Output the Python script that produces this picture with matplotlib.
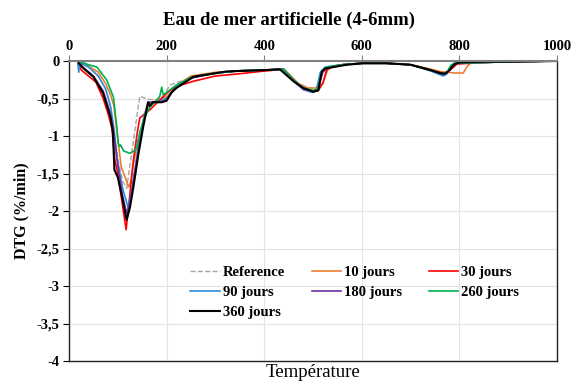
import matplotlib
matplotlib.use("Agg")
import matplotlib.pyplot as plt
from matplotlib.ticker import FuncFormatter

# ---------------- data ----------------
ref_T = [20, 40, 60, 75, 85, 92, 100, 110, 118, 145, 162, 180, 193, 207, 250, 300, 350, 400, 440,
         460, 480, 500, 510, 520, 530, 560, 600, 650, 700, 740, 760, 770, 780, 790, 800, 850, 900, 1000]
ref_D = [-0.02, -0.08, -0.2, -0.37, -0.6, -0.9, -1.3, -1.6, -1.7, -0.47, -0.51, -0.52, -0.47, -0.32, -0.22, -0.16, -0.13, -0.12, -0.11,
         -0.26, -0.36, -0.4, -0.38, -0.15, -0.09, -0.05, -0.03, -0.03, -0.05, -0.12, -0.16, -0.17, -0.12, -0.04, -0.02, -0.01, -0.01, 0.0]

j10_T = [20, 40, 60, 75, 85, 92, 97, 107, 115, 122, 127, 131, 140, 149, 159, 170, 190, 200, 220, 250, 300, 350, 400, 440,
         450, 470, 490, 505, 520, 530, 540, 560, 600, 650, 700, 730, 760, 790, 808, 815, 822, 850, 900, 1000]
j10_D = [-0.02, -0.07, -0.15, -0.3, -0.45, -0.6, -0.88, -1.41, -1.55, -1.68, -1.6, -1.41, -1.1, -0.88, -0.62, -0.55, -0.5, -0.48, -0.33, -0.2, -0.15, -0.13, -0.12, -0.11,
         -0.17, -0.3, -0.36, -0.36, -0.3, -0.12, -0.07, -0.05, -0.03, -0.03, -0.05, -0.09, -0.14, -0.16, -0.16, -0.08, -0.03, -0.02, -0.01, 0.0]

j30_T = [20, 25, 55, 70, 80, 88, 94, 100, 108, 115, 117, 122, 132, 140, 145, 156, 166, 186, 207, 230, 255, 300, 350, 391, 440,
         460, 480, 495, 510, 520, 528, 540, 560, 600, 650, 700, 740, 770, 785, 795, 850, 900, 1000]
j30_D = [-0.05, -0.12, -0.28, -0.5, -0.7, -0.9, -1.32, -1.5, -1.85, -2.16, -2.25, -1.95, -1.32, -0.95, -0.76, -0.7, -0.65, -0.52, -0.39, -0.32, -0.27, -0.2, -0.17, -0.14, -0.11,
         -0.25, -0.38, -0.41, -0.4, -0.3, -0.12, -0.07, -0.05, -0.03, -0.03, -0.05, -0.12, -0.17, -0.1, -0.04, -0.02, -0.01, 0.0]

j90_T = [18, 20, 22, 40, 60, 75, 85, 92, 98, 110, 121, 128, 135, 145, 155, 165, 180, 200, 220, 250, 300, 350, 400, 440,
         460, 480, 500, 507, 515, 525, 560, 600, 650, 700, 740, 767, 775, 781, 790, 850, 900, 1000]
j90_D = [-0.02, -0.15, -0.02, -0.08, -0.2, -0.37, -0.6, -0.9, -1.28, -1.7, -1.95, -1.75, -1.45, -1.0, -0.7, -0.55, -0.55, -0.5, -0.35, -0.22, -0.16, -0.13, -0.12, -0.11,
         -0.27, -0.38, -0.42, -0.38, -0.15, -0.08, -0.05, -0.03, -0.03, -0.05, -0.13, -0.2, -0.17, -0.08, -0.03, -0.02, -0.01, 0.0]

j180_T = [20, 30, 50, 70, 85, 92, 100, 110, 118, 125, 132, 142, 152, 162, 172, 190, 200, 210, 220, 250, 300, 350, 400, 440,
          460, 480, 500, 510, 520, 530, 560, 600, 650, 700, 740, 765, 775, 785, 795, 850, 900, 1000]
j180_D = [-0.02, -0.09, -0.2, -0.4, -0.7, -0.95, -1.4, -1.8, -2.03, -1.88, -1.6, -1.2, -0.85, -0.55, -0.55, -0.54, -0.52, -0.42, -0.36, -0.23, -0.16, -0.13, -0.12, -0.11,
          -0.26, -0.37, -0.4, -0.38, -0.15, -0.09, -0.05, -0.03, -0.03, -0.05, -0.12, -0.18, -0.16, -0.07, -0.03, -0.02, -0.01, 0.0]

j260_T = [20, 40, 57, 77, 91, 98, 101, 104, 106, 112, 125, 133, 139, 145, 156, 166, 180, 186, 190, 193, 200, 220, 250, 300, 350, 400, 440,
          460, 480, 500, 510, 518, 530, 560, 600, 650, 700, 740, 765, 775, 782, 790, 850, 900, 1000]
j260_D = [0.0, -0.05, -0.08, -0.25, -0.48, -0.88, -1.1, -1.14, -1.12, -1.2, -1.23, -1.2, -1.16, -0.95, -0.74, -0.61, -0.52, -0.47, -0.35, -0.45, -0.42, -0.32, -0.22, -0.16, -0.13, -0.12, -0.11,
          -0.25, -0.36, -0.39, -0.37, -0.13, -0.08, -0.05, -0.03, -0.03, -0.05, -0.12, -0.17, -0.15, -0.06, -0.03, -0.02, -0.01, 0.0]

j360_T = [20, 30, 50, 70, 85, 90, 93, 100, 110, 118, 125, 132, 142, 152, 162, 166, 172, 190, 200, 210, 220, 255, 323, 405, 432,
          460, 480, 501, 511, 518, 525, 569, 603, 650, 700, 740, 760, 770, 780, 790, 800, 850, 900, 1000]
j360_D = [-0.03, -0.1, -0.21, -0.43, -0.75, -0.95, -1.45, -1.55, -1.85, -2.12, -1.95, -1.68, -1.25, -0.88, -0.55, -0.6, -0.55, -0.55, -0.53, -0.42, -0.36, -0.21, -0.14, -0.12, -0.11,
          -0.27, -0.36, -0.41, -0.39, -0.14, -0.1, -0.05, -0.03, -0.03, -0.05, -0.12, -0.16, -0.17, -0.12, -0.04, -0.02, -0.01, -0.01, 0.0]

series = [
    ("Reference", ref_T, ref_D, "#A6A6A6", "--", 1.0),
    ("10 jours", j10_T, j10_D, "#ED7D31", "-", 1.2),
    ("30 jours", j30_T, j30_D, "#FF0000", "-", 1.2),
    ("90 jours", j90_T, j90_D, "#2E8FDB", "-", 1.2),
    ("180 jours", j180_T, j180_D, "#7030A0", "-", 1.2),
    ("260 jours", j260_T, j260_D, "#00B050", "-", 1.2),
    ("360 jours", j360_T, j360_D, "#000000", "-", 1.5),
]

y_ticks = [0, -0.5, -1, -1.5, -2, -2.5, -3, -3.5, -4]
x_ticks = [0, 200, 400, 600, 800, 1000]

# ---------------- figure ----------------
serif = ["Liberation Serif", "DejaVu Serif"]
plt.rcParams["font.family"] = serif

fig = plt.figure(figsize=(5.78, 3.83), dpi=100)
ax = fig.add_axes([69 / 578, 1 - 361 / 383, 488 / 578, 300 / 383])

handles = {}
for name, T, D, c, ls, lw in series:
    (h,) = ax.plot(T, D, color=c, linestyle=ls, linewidth=lw, label=name)
    handles[name] = h

ax.set_xlim(0, 1000)
ax.set_ylim(-4, 0)
ax.set_xticks(x_ticks)
ax.set_yticks(y_ticks)
ax.yaxis.set_major_formatter(FuncFormatter(lambda v, p: ("%g" % v).replace(".", ",")))
ax.xaxis.tick_top()
ax.tick_params(axis="x", top=True, bottom=False, direction="out", length=4, pad=2,
               labelsize=10.5, color="#808080")
ax.tick_params(axis="y", direction="out", length=4, pad=3, labelsize=10.5)
for lab in ax.get_xticklabels() + ax.get_yticklabels():
    lab.set_fontweight("bold")

ax.grid(True, color="#E3E3E3", linewidth=0.8)
ax.set_axisbelow(True)
for s in ["left", "right", "bottom"]:
    ax.spines[s].set_color("#222222")
    ax.spines[s].set_linewidth(1.0)
ax.spines["top"].set_color("#808080")
ax.spines["top"].set_linewidth(1.5)

ax.set_ylabel("DTG (%/min)", fontsize=11.5, fontweight="bold", labelpad=5)
ax.set_xlabel("Température", fontsize=13.5, labelpad=2)

fig.text(0.5, 1 - 20 / 383, "Eau de mer artificielle (4-6mm)", ha="center", va="center",
         fontsize=13.5, fontweight="bold")

# row-wise legend order for a 3-column legend
order = ["Reference", "90 jours", "360 jours", "10 jours", "180 jours", "30 jours", "260 jours"]
leg = ax.legend([handles[n] for n in order], order, loc="upper left",
                bbox_to_anchor=(0.222, 0.36), ncol=3, frameon=False,
                prop={"weight": "bold", "size": 10.5}, handlelength=2.0, handletextpad=0.2,
                columnspacing=1.85, labelspacing=0.45)

fig.savefig("out.png", dpi=100)
